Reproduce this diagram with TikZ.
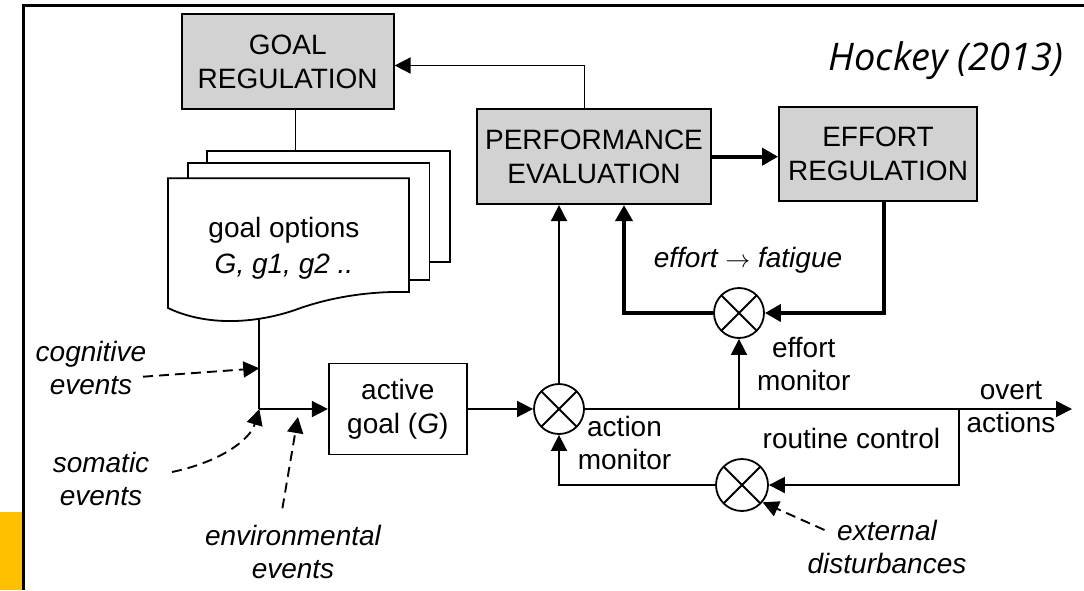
\documentclass[tikz,border=0pt]{standalone}
\usepackage{fontspec}
\setmainfont{Liberation Sans}
\newfontfamily\hfont{Open Sans}
\usetikzlibrary{arrows.meta}
\definecolor{boxgray}{HTML}{D2D2D2}
\definecolor{amber}{HTML}{FFC000}
\begin{document}
\begin{tikzpicture}[x=1pt,y=-1pt,
  font=\fontsize{28}{34}\selectfont,
  gbox/.style={draw,line width=1.8pt,fill=boxgray,inner sep=0pt,align=center},
  wbox/.style={draw,line width=1.8pt,fill=white,inner sep=0pt,align=center},
  lbl/.style={align=center,inner sep=0pt,font=\fontsize{28}{33}\selectfont},
  ilbl/.style={align=center,inner sep=0pt,font=\fontsize{28}{33}\selectfont\itshape},
  conn/.style={line width=1.7pt,-{Triangle[length=16pt,width=16pt]}},
  plain/.style={line width=1.7pt},
  thickc/.style={line width=3.8pt,-{Triangle[length=16pt,width=17pt]}},
  dconn/.style={line width=1.9pt,dash pattern=on 10pt off 6pt,-{Triangle[length=16pt,width=16pt]}},
  xcirc/.style={circle,draw,line width=1.8pt,minimum size=50pt,inner sep=0pt,
    path picture={\draw[line width=1.8pt] (path picture bounding box.north west)--(path picture bounding box.south east) (path picture bounding box.north east)--(path picture bounding box.south west);}}
]
\useasboundingbox (0,0) rectangle (1084,590);
% frame
\fill[amber] (0,511.7) rectangle (22,590);
\draw[line width=2.5pt] (1084,5.7) -- (23.4,5.7) -- (23.4,590);

% boxes
\node[gbox,minimum width=212pt,minimum height=95pt] (GR) at (287.7,61.5) {GOAL\\REGULATION};
\node[gbox,minimum width=234pt,minimum height=95pt] (PE) at (594,156.7) {PERFORMANCE\\EVALUATION};
\node[gbox,minimum width=198pt,minimum height=94pt] (ER) at (878,154) {EFFORT\\REGULATION};
\node[wbox,minimum width=138pt,minimum height=91pt] (AG) at (397.8,409) {active\\goal (\textit{G})};

% stacked goal option pages
\node[wbox,minimum width=243.4pt,minimum height=111.3pt] (back) at (328.3,206.4) {};
\node[wbox,minimum width=241.7pt,minimum height=117pt] (mid) at (308.6,221.5) {};
\draw[line width=1.8pt,fill=white] (168,178.3) -- (409,178.3) -- (409,292)
  .. controls (370,291) and (330,297) .. (295,310)
  .. controls (260,322) and (210,328) .. (168,308) -- cycle;
\node[lbl,font=\fontsize{28}{36}\selectfont] (opts) at (284,248) {goal options\\\textit{G, g1, g2 ..}};

% circles
\node[xcirc] (am) at (559,409) {};
\node[xcirc] (ec) at (739,313) {};
\node[xcirc,minimum size=52pt] (rc) at (742,485) {};

% coordinates
\coordinate (wave) at (259.3,318.6);
\coordinate (junc) at (259.3,409);
\coordinate (cogstart) at (143,376.7);
\coordinate (cogtip) at (259.3,368.3);
\coordinate (somstart) at (172,472);
\coordinate (envstart) at (282.4,508.3);
\coordinate (envtip) at (297.9,417);
\coordinate (outtip) at (1072,409);
\coordinate (rcroot) at (959,409);
\coordinate (extstart) at (824.5,530);

% connectors
\draw[plain] ([xshift=7.8pt]GR.south) -- ([xshift=7.8pt]GR.south |- back.north);
\draw[conn] ([xshift=-9.5pt]PE.north) |- ([yshift=-4pt]GR.east);
\draw[thickc] (PE.east) -- (PE.east -| ER.west);
\draw[plain] (wave) -- (junc);
\draw[conn] (junc) -- (AG.west);
\draw[dconn] (cogstart) -- (cogtip);
\draw[dconn] (somstart) .. controls (220,462) and (250,440) .. (junc);
\draw[dconn] (envstart) -- (envtip);
\draw[conn] (AG.east) -- (am.west);
\draw[conn] (am.north) -- (am.north |- PE.south);
\draw[conn] (am.east) -- (outtip);
\draw[thickc] ([xshift=6pt]ER.south) |- (ec.east);
\draw[thickc] (ec.west) -| ([xshift=30pt]PE.south);
\draw[conn] (ec.south |- am.east) -- (ec.south);
\draw[conn] (rcroot) |- (rc.east);
\draw[conn] (rc.west) -| (am.south);
\draw[dconn] (extstart) -- (rc.-40);

% labels
\node[ilbl] (cog) at (91,367.5) {cognitive\\events};
\node[ilbl] (som) at (101,478.7) {somatic\\events};
\node[ilbl] (env) at (293,551.5) {environmental\\events};
\node[ilbl] (ef) at (748,260) {effort $\rightarrow$ fatigue};
\node[lbl] (em) at (803.7,364) {effort\\monitor};
\node[lbl] (aml) at (624.5,442.5) {action\\monitor};
\node[lbl] (rcl) at (851.4,438) {routine control};
\node[lbl] (ov) at (1011,407) {overt\\actions};
\node[ilbl] (ext) at (887,546.5) {external\\disturbances};
\node[font=\hfont\itshape\fontsize{38}{44}\selectfont,anchor=base,inner sep=0pt] (cite) at (946,70) {Hockey (2013)};
\end{tikzpicture}
\end{document}
